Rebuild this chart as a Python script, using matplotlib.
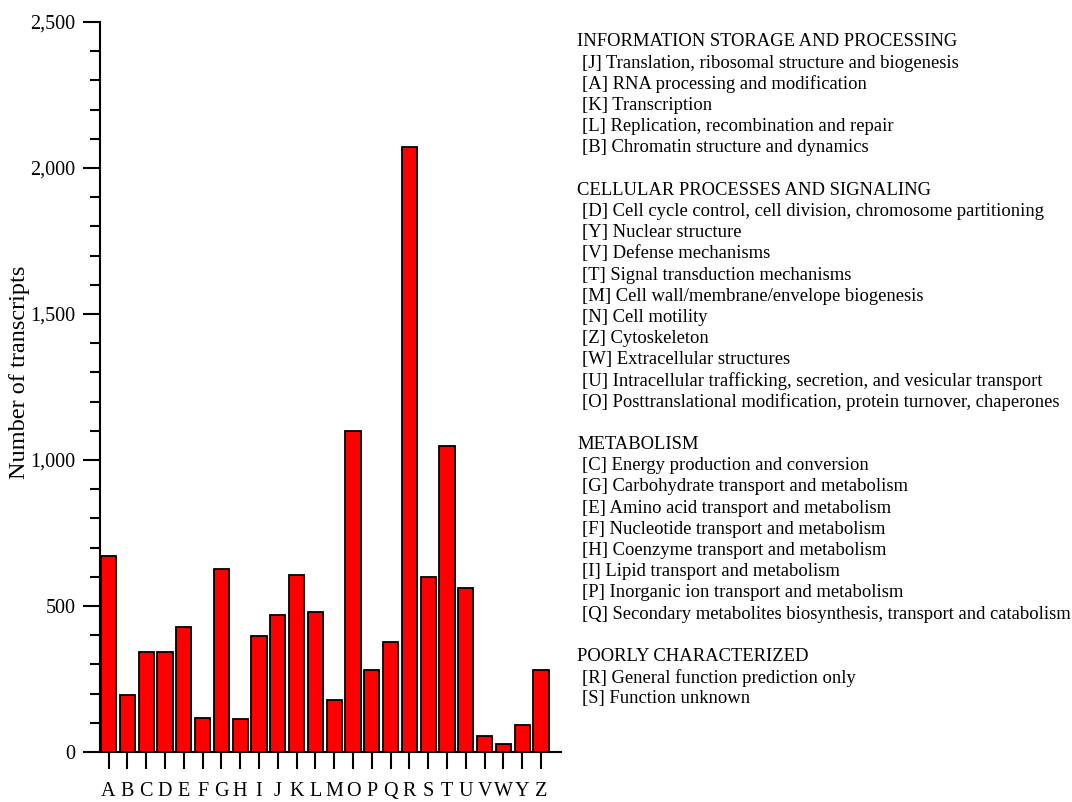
import matplotlib
matplotlib.use("Agg")
import matplotlib.pyplot as plt
from matplotlib.ticker import MultipleLocator, FuncFormatter

plt.rcParams["font.family"] = ["Liberation Serif", "DejaVu Serif"]

# COG functional classes and transcript counts
categories = ["A", "B", "C", "D", "E", "F", "G", "H", "I", "J", "K", "L",
              "M", "O", "P", "Q", "R", "S", "T", "U", "V", "W", "Y", "Z"]
counts = [671, 196, 344, 343, 427, 116, 626, 113, 398, 469, 606, 478,
          177, 1098, 280, 376, 2073, 598, 1048, 562, 55, 29, 91, 280]

# Class descriptions grouped by functional category
groups = [
    ("INFORMATION STORAGE AND PROCESSING", [
        "[J] Translation, ribosomal structure and biogenesis",
        "[A] RNA processing and modification",
        "[K] Transcription",
        "[L] Replication, recombination and repair",
        "[B] Chromatin structure and dynamics",
    ]),
    ("CELLULAR PROCESSES AND SIGNALING", [
        "[D] Cell cycle control, cell division, chromosome partitioning",
        "[Y] Nuclear structure",
        "[V] Defense mechanisms",
        "[T] Signal transduction mechanisms",
        "[M] Cell wall/membrane/envelope biogenesis",
        "[N] Cell motility",
        "[Z] Cytoskeleton",
        "[W] Extracellular structures",
        "[U] Intracellular trafficking, secretion, and vesicular transport",
        "[O] Posttranslational modification, protein turnover, chaperones",
    ]),
    ("METABOLISM", [
        "[C] Energy production and conversion",
        "[G] Carbohydrate transport and metabolism",
        "[E] Amino acid transport and metabolism",
        "[F] Nucleotide transport and metabolism",
        "[H] Coenzyme transport and metabolism",
        "[I] Lipid transport and metabolism",
        "[P] Inorganic ion transport and metabolism",
        "[Q] Secondary metabolites biosynthesis, transport and catabolism",
    ]),
    ("POORLY CHARACTERIZED", [
        "[R] General function prediction only",
        "[S] Function unknown",
    ]),
]

W, H = 1072, 802
fig = plt.figure(figsize=(W / 100, H / 100), dpi=100)
ax_left, ax_right, ax_top, ax_bottom = 99.5, 561, 22, 752
ax = fig.add_axes([ax_left / W, 1 - ax_bottom / H,
                   (ax_right - ax_left) / W, (ax_bottom - ax_top) / H])

x = list(range(len(categories)))
ax.bar(x, counts, width=0.81, color="#ff0000", edgecolor="black",
       linewidth=1.3, zorder=3)

ax.set_xlim(-0.48, len(categories) - 1 + 1.06)
ax.set_ylim(0, 2500)
ax.set_xticks(x)
ax.set_xticklabels(categories, fontsize=14.5)
ax.yaxis.set_major_locator(MultipleLocator(500))
ax.yaxis.set_minor_locator(MultipleLocator(100))
ax.yaxis.set_major_formatter(FuncFormatter(lambda v, p: f"{int(v):,}"))
ax.tick_params(axis="y", which="major", direction="out", length=12.3,
               width=1.5, labelsize=14.5, pad=5)
ax.tick_params(axis="y", which="minor", direction="out", length=7, width=1.5)
ax.tick_params(axis="x", which="major", direction="out", length=12.3,
               width=1.5, pad=9)

for side in ("top", "right"):
    ax.spines[side].set_visible(False)
for side in ("left", "bottom"):
    ax.spines[side].set_linewidth(1.5)

ax.set_ylabel("Number of transcripts", fontsize=17.5)
ax.yaxis.label.set(ha="center", va="center", rotation_mode="default")
ax.yaxis.set_label_coords((20 - ax_left) / (ax_right - ax_left),
                          (ax_bottom - 372.5) / (ax_bottom - ax_top))

# Category legend as a text column on the right
y = 42
step = 21.19
for title, items in groups:
    fig.text(577 / W, 1 - y / H, title, fontsize=13.4, va="center", ha="left")
    y += step
    for item in items:
        fig.text(582 / W, 1 - y / H, item, fontsize=13.4, va="center",
                 ha="left")
        y += step
    y += step

fig.savefig("out.png", dpi=100)
